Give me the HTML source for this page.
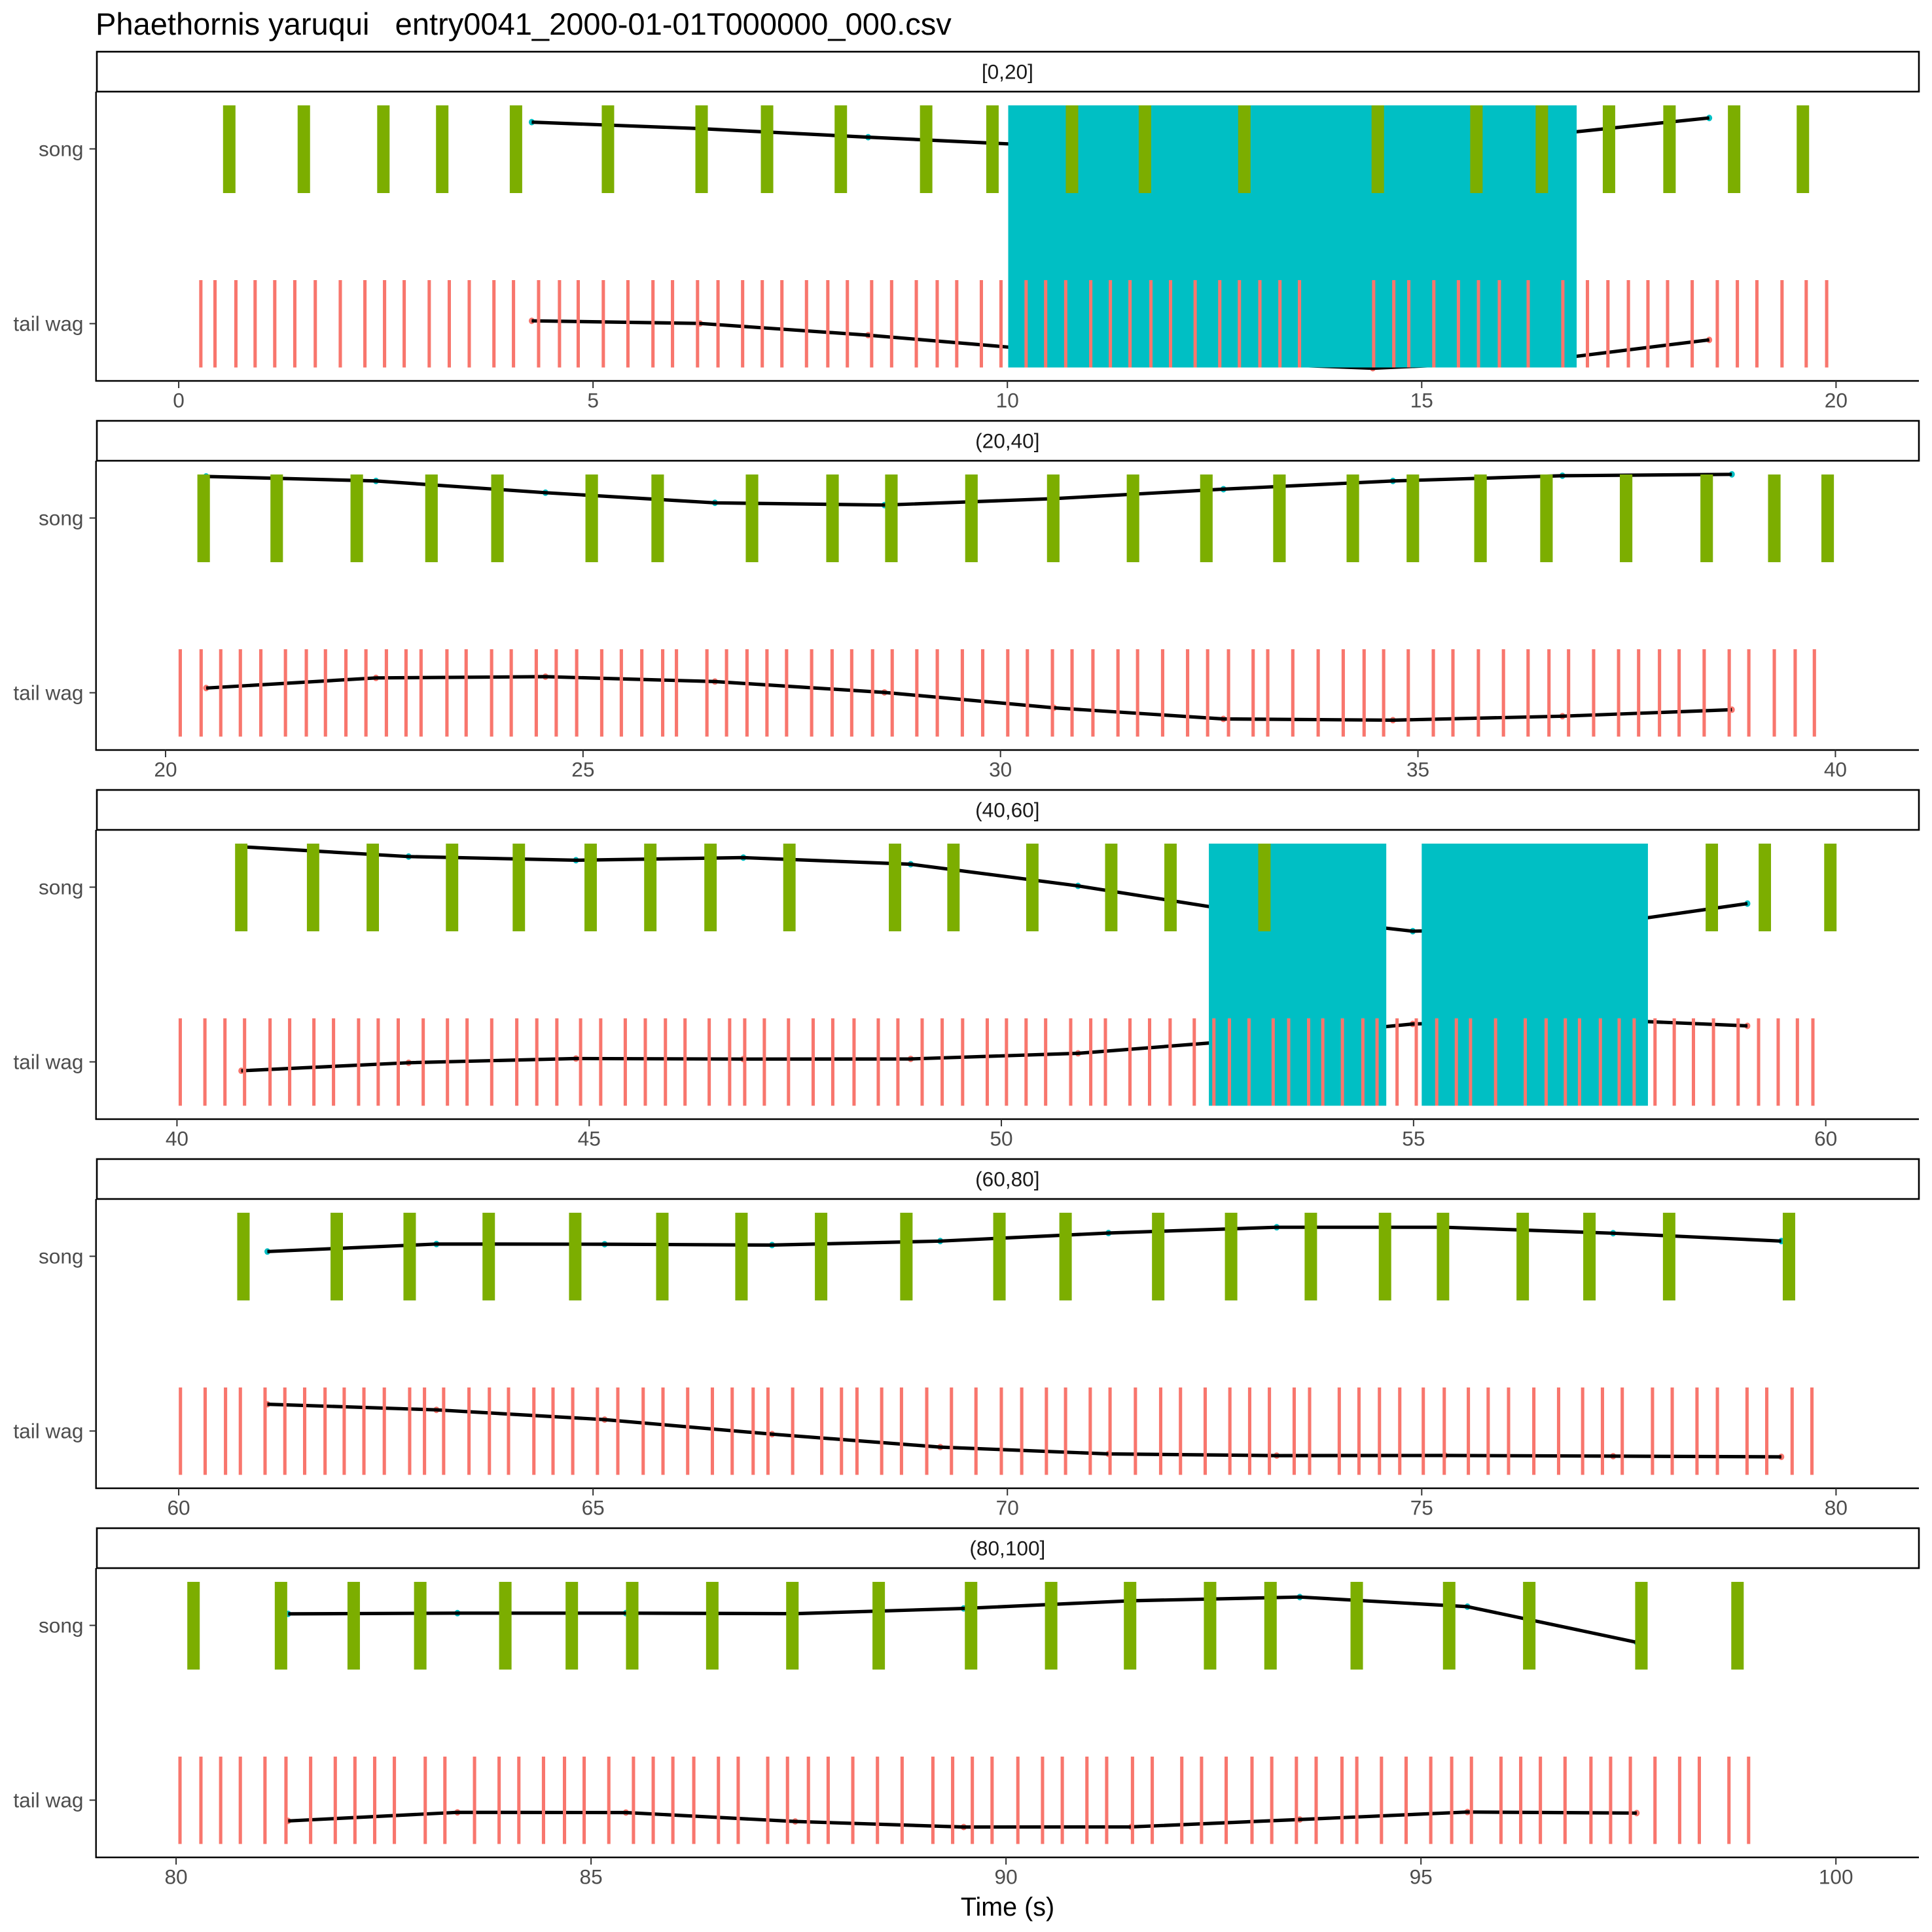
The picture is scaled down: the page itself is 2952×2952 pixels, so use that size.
<!DOCTYPE html>
<html lang="en">
<head>
<meta charset="utf-8">
<title>Phaethornis yaruqui entry0041</title>
<style>
  html, body { margin: 0; padding: 0; background: #ffffff; }
  svg { display: block; }
  text { font-family: "Liberation Sans", Arial, sans-serif; }
</style>
</head>
<body>
<svg id="chart" xmlns="http://www.w3.org/2000/svg" width="2952" height="2952" viewBox="0 0 2952 2952">
  <rect x="0" y="0" width="2952" height="2952" fill="#ffffff"/>
  <text x="146" y="53" font-size="47.05" fill="#000000" xml:space="preserve" style="white-space:pre">Phaethornis yaruqui   entry0041_2000-01-01T000000_000.csv</text>
  <text x="1539.5" y="2927" font-size="39.5" fill="#000000" text-anchor="middle">Time (s)</text>
</svg>
<script>
// ---------- chart data (seconds and category-relative offsets) ----------
const facetLabels = ["[0,20]", "(20,40]", "(40,60]", "(60,80]", "(80,100]"];
const categoryLabels = ["song", "tail wag"];

const xDomainP1 = [-0.998, 21.0];
const xDomainP2 = [19.167, 41.0];
const xDomainP3 = [39.018, 61.13];
const xDomainP4 = [59.002, 81.0];
const xDomainP5 = [79.035, 101.0];

const xTicksP1 = [0, 5, 10, 15, 20];
const xTicksP2 = [20, 25, 30, 35, 40];
const xTicksP3 = [40, 45, 50, 55, 60];
const xTicksP4 = [60, 65, 70, 75, 80];
const xTicksP5 = [80, 85, 90, 95, 100];

const songDuration = 0.15;
const tailWagDuration = 0.04;

const songP1 = [0.61, 1.51, 2.47, 3.18, 4.07, 5.18, 6.31, 7.10, 7.99, 9.02, 9.82, 10.78, 11.66, 12.86, 14.47, 15.66, 16.45, 17.26, 17.99, 18.77, 19.60];
const songP2 = [20.456, 21.331, 22.290, 23.185, 23.975, 25.104, 25.894, 27.024, 27.988, 28.693, 29.652, 30.632, 31.587, 32.466, 33.341, 34.220, 34.939, 35.749, 36.539, 37.493, 38.458, 39.268, 39.907];
const songP3 = [40.780, 41.651, 42.375, 43.337, 44.147, 45.018, 45.742, 46.472, 47.429, 48.710, 49.419, 50.376, 51.333, 52.052, 53.191, 58.618, 59.261, 60.056];
const songP4 = [60.781, 61.907, 62.787, 63.741, 64.785, 65.836, 66.791, 67.752, 68.781, 69.904, 70.702, 71.820, 72.700, 73.662, 74.557, 75.257, 76.219, 77.024, 77.986, 79.432];
const songP5 = [80.210, 81.264, 82.140, 82.942, 83.967, 84.768, 85.496, 86.461, 87.426, 88.466, 89.579, 90.544, 91.495, 92.459, 93.187, 94.226, 95.340, 96.305, 97.656, 98.814];

const tailP1 = [0.267, 0.438, 0.690, 0.922, 1.159, 1.401, 1.648, 1.950, 2.247, 2.484, 2.721, 3.023, 3.265, 3.506, 3.804, 4.040, 4.343, 4.595, 4.821, 5.124, 5.421, 5.723, 5.959, 6.261, 6.508, 6.805, 7.042, 7.279, 7.576, 7.833, 8.069, 8.362, 8.603, 8.901, 9.153, 9.389, 9.686, 9.923, 10.226, 10.462, 10.704, 11.006, 11.243, 11.480, 11.732, 11.969, 12.266, 12.563, 12.800, 13.047, 13.289, 13.525, 14.42, 14.663, 14.844, 15.146, 15.443, 15.685, 15.937, 16.285, 16.703, 17.0, 17.247, 17.494, 17.730, 17.967, 18.264, 18.567, 18.809, 19.045, 19.348, 19.640, 19.887];
const tailP2 = [20.176, 20.426, 20.661, 20.896, 21.141, 21.436, 21.686, 21.915, 22.160, 22.400, 22.645, 22.880, 23.060, 23.370, 23.600, 23.905, 24.140, 24.440, 24.679, 24.924, 25.224, 25.459, 25.704, 25.954, 26.119, 26.484, 26.719, 26.964, 27.203, 27.438, 27.738, 27.983, 28.218, 28.468, 28.703, 28.998, 29.243, 29.543, 29.787, 30.087, 30.322, 30.622, 30.857, 31.107, 31.407, 31.642, 31.942, 32.241, 32.481, 32.731, 33.026, 33.201, 33.501, 33.805, 34.105, 34.355, 34.589, 34.884, 35.184, 35.419, 35.724, 36.024, 36.319, 36.569, 36.804, 37.104, 37.403, 37.643, 37.893, 38.128, 38.428, 38.728, 38.963, 39.268, 39.518, 39.748];
const tailP3 = [40.040, 40.339, 40.582, 40.820, 41.129, 41.367, 41.661, 41.899, 42.203, 42.441, 42.684, 42.987, 43.281, 43.519, 43.818, 44.122, 44.365, 44.608, 44.896, 45.140, 45.438, 45.681, 45.925, 46.163, 46.456, 46.704, 46.887, 47.125, 47.418, 47.717, 47.955, 48.213, 48.507, 48.745, 49.039, 49.282, 49.530, 49.829, 50.062, 50.300, 50.537, 50.841, 51.084, 51.262, 51.560, 51.798, 52.047, 52.340, 52.578, 52.766, 53.004, 53.297, 53.485, 53.727, 53.899, 54.137, 54.385, 54.557, 54.800, 55.033, 55.281, 55.519, 55.691, 55.995, 56.355, 56.608, 56.841, 57.013, 57.266, 57.494, 57.676, 57.929, 58.162, 58.395, 58.638, 58.937, 59.185, 59.423, 59.656, 59.844];
const tailP4 = [60.021, 60.319, 60.565, 60.744, 61.042, 61.281, 61.520, 61.766, 61.997, 62.235, 62.481, 62.787, 62.966, 63.197, 63.503, 63.749, 63.980, 64.286, 64.517, 64.755, 65.053, 65.299, 65.605, 65.844, 66.142, 66.440, 66.679, 66.932, 67.111, 67.409, 67.760, 67.998, 68.185, 68.483, 68.722, 69.027, 69.325, 69.621, 69.927, 70.173, 70.471, 70.702, 71.000, 71.239, 71.545, 71.850, 72.089, 72.387, 72.685, 72.924, 73.162, 73.461, 73.647, 74.005, 74.243, 74.490, 74.735, 75.019, 75.272, 75.563, 75.802, 76.048, 76.353, 76.652, 76.942, 77.181, 77.420, 77.785, 78.023, 78.322, 78.568, 78.926, 79.164, 79.470, 79.709];
const tailP5 = [80.047, 80.299, 80.537, 80.774, 81.071, 81.324, 81.621, 81.918, 82.155, 82.393, 82.630, 83.002, 83.239, 83.596, 83.892, 84.130, 84.427, 84.680, 84.917, 85.214, 85.511, 85.749, 85.986, 86.238, 86.535, 86.773, 87.129, 87.367, 87.619, 87.857, 88.154, 88.451, 88.748, 89.119, 89.357, 89.594, 89.832, 90.143, 90.440, 90.678, 90.975, 91.213, 91.524, 91.762, 92.118, 92.356, 92.653, 92.964, 93.202, 93.499, 93.737, 94.048, 94.227, 94.524, 94.821, 95.118, 95.370, 95.608, 95.964, 96.202, 96.439, 96.736, 97.048, 97.285, 97.523, 97.820, 98.117, 98.354, 98.711, 98.948];

const contourTimesP1 = [4.26, 6.29, 8.32, 10.35, 12.38, 14.41, 16.44, 18.47];
const contourTimesP2 = [20.486, 22.52, 24.55, 26.58, 28.61, 30.64, 32.67, 34.70, 36.73, 38.76];
const contourTimesP3 = [40.78, 42.81, 44.84, 46.87, 48.90, 50.93, 52.96, 54.99, 57.02, 59.05];
const contourTimesP4 = [61.07, 63.11, 65.14, 67.16, 69.19, 71.22, 73.25, 75.28, 77.31, 79.34];
const contourTimesP5 = [81.35, 83.39, 85.42, 87.46, 89.49, 91.51, 93.54, 95.56, 97.60];

const songContourP1 = [0.153, 0.116, 0.067, 0.021, -0.002, 0.009, 0.077, 0.177];
const songContourP2 = [0.238, 0.212, 0.145, 0.087, 0.074, 0.111, 0.165, 0.212, 0.242, 0.250];
const songContourP3 = [0.231, 0.175, 0.154, 0.169, 0.131, 0.007, -0.144, -0.252, -0.230, -0.094];
const songContourP4 = [0.027, 0.070, 0.069, 0.064, 0.087, 0.133, 0.166, 0.166, 0.132, 0.087];
const songContourP5 = [0.066, 0.070, 0.070, 0.067, 0.097, 0.141, 0.162, 0.107, -0.097];

const tailContourP1 = [0.016, 0.001, -0.066, -0.148, -0.219, -0.255, -0.212, -0.093];
const tailContourP2 = [0.027, 0.085, 0.092, 0.064, 0.002, -0.086, -0.150, -0.157, -0.134, -0.097];
const tailContourP3 = [-0.051, -0.005, 0.019, 0.016, 0.017, 0.049, 0.124, 0.217, 0.247, 0.206];
const tailContourP4 = [0.153, 0.121, 0.065, -0.018, -0.092, -0.131, -0.141, -0.140, -0.144, -0.148];
const tailContourP5 = [-0.119, -0.070, -0.071, -0.122, -0.154, -0.153, -0.111, -0.068, -0.074];

const spanStartsP1 = [10.01];
const spanEndsP1 = [16.87];
const spanStartsP2 = [];
const spanEndsP2 = [];
const spanStartsP3 = [52.517, 55.099];
const spanEndsP3 = [54.669, 57.843];
const spanStartsP4 = [];
const spanEndsP4 = [];
const spanStartsP5 = [];
const spanEndsP5 = [];

// ---------- collect per-facet references ----------
const xDomains = [xDomainP1, xDomainP2, xDomainP3, xDomainP4, xDomainP5];
const xTicks = [xTicksP1, xTicksP2, xTicksP3, xTicksP4, xTicksP5];
const songBars = [songP1, songP2, songP3, songP4, songP5];
const tailBars = [tailP1, tailP2, tailP3, tailP4, tailP5];
const contourTimes = [contourTimesP1, contourTimesP2, contourTimesP3, contourTimesP4, contourTimesP5];
const songContours = [songContourP1, songContourP2, songContourP3, songContourP4, songContourP5];
const tailContours = [tailContourP1, tailContourP2, tailContourP3, tailContourP4, tailContourP5];
const spanStarts = [spanStartsP1, spanStartsP2, spanStartsP3, spanStartsP4, spanStartsP5];
const spanEnds = [spanEndsP1, spanEndsP2, spanEndsP3, spanEndsP4, spanEndsP5];

// ---------- layout ----------
const NS = "http://www.w3.org/2000/svg";
const svg = document.getElementById("chart");
const PLOT_LEFT = 146.7;
const PLOT_RIGHT = 2932;
const FACET_TOP = 79;
const FACET_STEP = 564;
const STRIP_H = 61;
const AXIS_Y = 503;
const CATEGORY_UNIT = 267;
const TICK_SONG = 148.5;
const TICK_TAIL = 415.5;
const MARK_TOP = 82;
const MARK_BOTTOM = 482.5;
const SONG_BAR_H = 134;
const TAIL_BAR_TOP = 349;
const TAIL_BAR_H = 133.5;

function make(tag, attrs, parent) {
  const el = document.createElementNS(NS, tag);
  for (const k in attrs) el.setAttribute(k, attrs[k]);
  parent.appendChild(el);
  return el;
}

function xScale(domain) {
  return function (t) {
    return PLOT_LEFT + (t - domain[0]) / (domain[1] - domain[0]) * (PLOT_RIGHT - PLOT_LEFT);
  };
}

function yScale(top, tick) {
  return function (offset) {
    return top + tick - offset * CATEGORY_UNIT;
  };
}

function drawContour(group, times, values, X, Y, dotColor, prefix) {
  values.forEach(function (v, i) {
    const dot = make("ellipse", { cx: X(times[i]), cy: Y(v), rx: 4.5, ry: 5, fill: dotColor }, group);
    
    
  });
  const pts = values.map(function (v, i) { return X(times[i]).toFixed(1) + "," + Y(v).toFixed(1); }).join(" ");
  const line = make("polyline", { points: pts, fill: "none", stroke: "#000000", "stroke-width": 5.2, "stroke-linejoin": "round" }, group);
  
  
}

facetLabels.forEach(function (label, p) {
  const top = FACET_TOP + p * FACET_STEP;
  const X = xScale(xDomains[p]);
  const YSong = yScale(top, TICK_SONG);
  const YTail = yScale(top, TICK_TAIL);

  const g = make("g", {}, svg);
  
  

  // strip
  const strip = make("rect", { x: 148, y: top, width: PLOT_RIGHT - 148, height: STRIP_H, fill: "#ffffff", stroke: "#000000", "stroke-width": 2.6 }, g);
  
  
  const stripText = make("text", { x: (PLOT_LEFT + PLOT_RIGHT) / 2, y: top + 41.5, "font-size": 31.6, fill: "#1a1a1a", "text-anchor": "middle" }, g);
  stripText.textContent = label;
  
  

  // contours sit underneath the spans and bars
  drawContour(g, contourTimes[p], songContours[p], X, YSong, "#00BFC4", "song");
  drawContour(g, contourTimes[p], tailContours[p], X, YTail, "#F8766D", "tail-wag");

  // spans
  spanStarts[p].forEach(function (s, i) {
    const span = make("rect", { x: X(s), y: top + MARK_TOP, width: X(spanEnds[p][i]) - X(s), height: MARK_BOTTOM - MARK_TOP, fill: "#00BFC4" }, g);
    
    
  });

  // song bars
  songBars[p].forEach(function (t) {
    const w = X(t + songDuration) - X(t);
    const bar = make("rect", { x: X(t) - w / 2, y: top + MARK_TOP, width: w, height: SONG_BAR_H, fill: "#7CAE00" }, g);
    
    
  });

  // tail wag bars
  tailBars[p].forEach(function (t) {
    const w = X(t + tailWagDuration) - X(t);
    const bar = make("rect", { x: X(t) - w / 2, y: top + TAIL_BAR_TOP, width: w, height: TAIL_BAR_H, fill: "#F8766D" }, g);
    
    
  });

  // axes
  const yAxis = make("line", { x1: PLOT_LEFT, x2: PLOT_LEFT, y1: top + STRIP_H, y2: top + AXIS_Y + 1, stroke: "#000000", "stroke-width": 2.4 }, g);
  
  
  const xAxis = make("line", { x1: PLOT_LEFT - 1, x2: PLOT_RIGHT, y1: top + AXIS_Y, y2: top + AXIS_Y, stroke: "#000000", "stroke-width": 2.4 }, g);
  
  

  [TICK_SONG, TICK_TAIL].forEach(function (tick, i) {
    const mark = make("line", { x1: PLOT_LEFT - 10, x2: PLOT_LEFT, y1: top + tick, y2: top + tick, stroke: "#333333", "stroke-width": 2 }, g);
    
    
    const lab = make("text", { x: 127.5, y: top + tick + 11, "font-size": 31.6, fill: "#4d4d4d", "text-anchor": "end" }, g);
    lab.textContent = categoryLabels[i];
    
    
  });

  xTicks[p].forEach(function (v) {
    const mark = make("line", { x1: X(v), x2: X(v), y1: top + AXIS_Y, y2: top + AXIS_Y + 11, stroke: "#333333", "stroke-width": 2 }, g);
    
    
    const lab = make("text", { x: X(v), y: top + AXIS_Y + 40.5, "font-size": 31.6, fill: "#4d4d4d", "text-anchor": "middle" }, g);
    lab.textContent = String(v);
    
    
  });
});
</script>
</body>
</html>
